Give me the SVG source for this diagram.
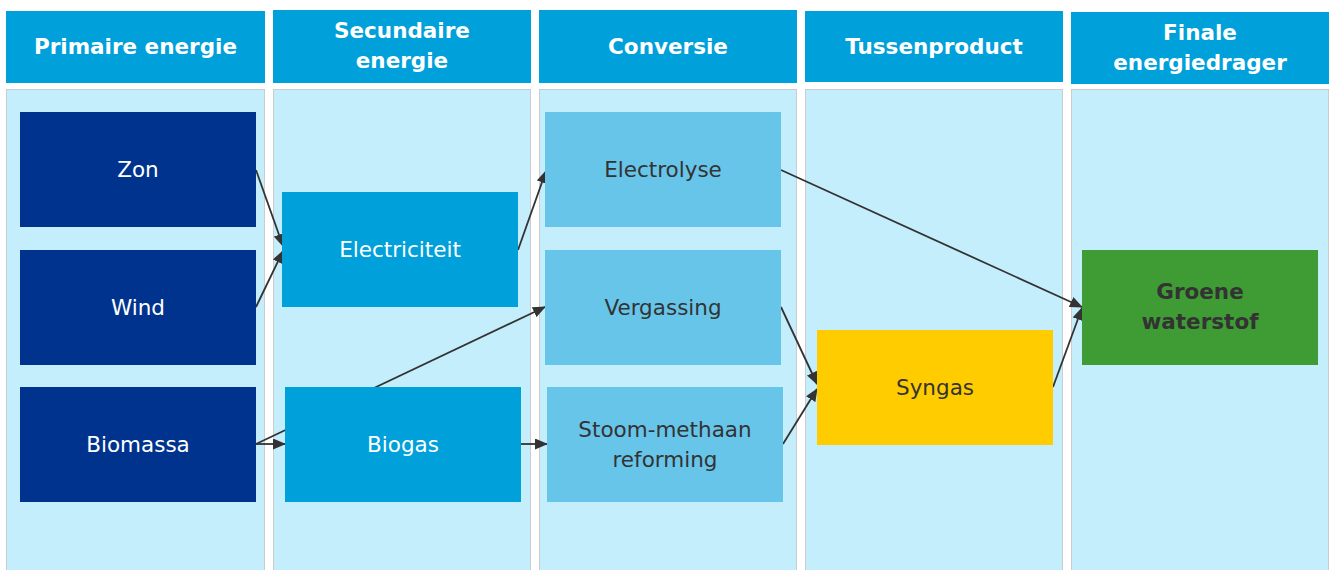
<svg xmlns="http://www.w3.org/2000/svg" width="1334" height="570" viewBox="0 0 1334 570">
<style>
.hdr{fill:#00a0da}
.col{fill:#c5eefd;stroke:#cccccc;stroke-width:1}
.ht{font-family:"DejaVu Sans",Verdana,sans-serif;font-weight:bold;font-size:21.5px;fill:#ffffff;text-anchor:middle}
.nt{font-family:"DejaVu Sans",Verdana,sans-serif;font-size:21.5px;text-anchor:middle}
.w{fill:#ffffff}
.d{fill:#333333}
.c{stroke:#333333;stroke-width:1.8;fill:none;marker-end:url(#ah)}
</style>
<defs>
<marker id="ah" markerUnits="userSpaceOnUse" markerWidth="13" markerHeight="11" refX="12" refY="5.5" orient="auto">
<path d="M0,0 L13,5.5 L0,11 Z" fill="#333333"/>
</marker>
</defs>
<rect width="1334" height="570" fill="#ffffff"/>
<g id="columns">
<rect class="hdr" x="6" y="11" width="259" height="72"/>
<rect class="col" x="6.5" y="89.5" width="258" height="482"/>
<text class="ht" x="135.5" y="54">Primaire energie</text>
<rect class="hdr" x="273" y="10" width="258" height="73"/>
<rect class="col" x="273.5" y="89.5" width="257" height="482"/>
<text class="ht" x="402" y="38">Secundaire</text>
<text class="ht" x="402" y="68">energie</text>
<rect class="hdr" x="539" y="10" width="258" height="73"/>
<rect class="col" x="539.5" y="89.5" width="257" height="482"/>
<text class="ht" x="668" y="54">Conversie</text>
<rect class="hdr" x="805" y="11" width="258" height="71"/>
<rect class="col" x="805.5" y="89.5" width="257" height="482"/>
<text class="ht" x="934" y="54">Tussenproduct</text>
<rect class="hdr" x="1071" y="12" width="258" height="72"/>
<rect class="col" x="1071.5" y="89.5" width="257" height="482"/>
<text class="ht" x="1200" y="40">Finale</text>
<text class="ht" x="1200" y="70">energiedrager</text>
</g>
<g id="connectors">
<line class="c" x1="256" y1="444" x2="545" y2="307"/>
<line class="c" x1="256" y1="170" x2="283" y2="246"/>
<line class="c" x1="256" y1="307" x2="283" y2="251"/>
<line class="c" x1="256" y1="444" x2="285" y2="444"/>
<line class="c" x1="518" y1="250" x2="546" y2="171"/>
<line class="c" x1="521" y1="444" x2="547" y2="444"/>
<line class="c" x1="781" y1="170" x2="1082" y2="307"/>
<line class="c" x1="781" y1="307" x2="817" y2="384"/>
<line class="c" x1="783" y1="444" x2="817" y2="389"/>
<line class="c" x1="1053" y1="387" x2="1082" y2="308"/>
</g>
<g id="zon"><rect x="20" y="112" width="236" height="115" fill="#00338d"/><text class="nt w" x="138" y="177">Zon</text></g>
<g id="wind"><rect x="20" y="250" width="236" height="115" fill="#00338d"/><text class="nt w" x="138" y="315">Wind</text></g>
<g id="biomassa"><rect x="20" y="387" width="236" height="115" fill="#00338d"/><text class="nt w" x="138" y="452">Biomassa</text></g>
<g id="electriciteit"><rect x="282" y="192" width="236" height="115" fill="#00a0da"/><text class="nt w" x="400" y="257">Electriciteit</text></g>
<g id="biogas"><rect x="285" y="387" width="236" height="115" fill="#00a0da"/><text class="nt w" x="403" y="452">Biogas</text></g>
<g id="electrolyse"><rect x="545" y="112" width="236" height="115" fill="#67c5ea"/><text class="nt d" x="663" y="177">Electrolyse</text></g>
<g id="vergassing"><rect x="545" y="250" width="236" height="115" fill="#67c5ea"/><text class="nt d" x="663" y="315">Vergassing</text></g>
<g id="stoom"><rect x="547" y="387" width="236" height="115" fill="#67c5ea"/><text class="nt d" x="665" y="437">Stoom-methaan</text><text class="nt d" x="665" y="467">reforming</text></g>
<g id="syngas"><rect x="817" y="330" width="236" height="115" fill="#ffcc00"/><text class="nt d" x="935" y="395">Syngas</text></g>
<g id="groene"><rect x="1082" y="250" width="236" height="115" fill="#3f9c35"/><text class="nt d" x="1200" y="299" font-weight="bold">Groene</text><text class="nt d" x="1200" y="329" font-weight="bold">waterstof</text></g>
</svg>
